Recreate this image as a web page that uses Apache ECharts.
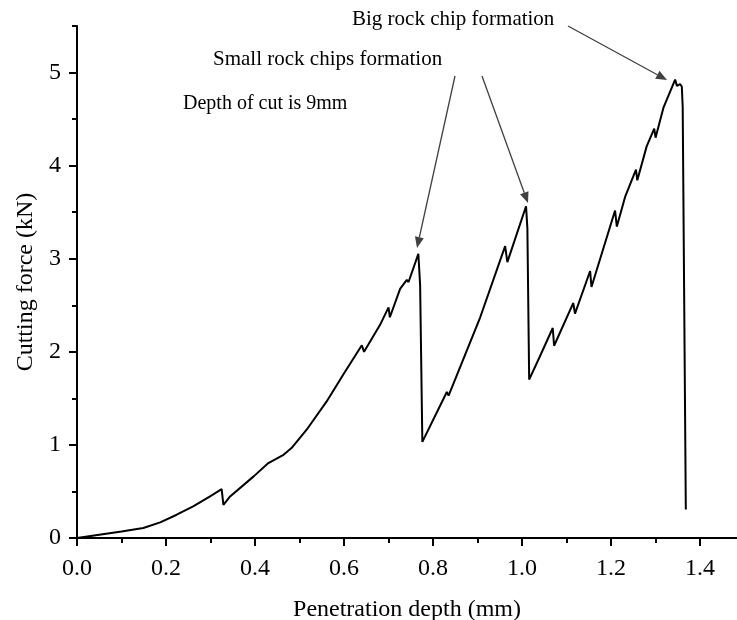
<!DOCTYPE html>
<html><head><meta charset="utf-8">
<script src="https://cdn.jsdelivr.net/npm/echarts@6/dist/echarts.min.js"></script>
<style>html,body{margin:0;padding:0;background:#fff}#c{width:737px;height:620px}</style>
</head><body><div id="c"></div>
<script>
const depth = [0, 0.05, 0.10, 0.149, 0.187, 0.224, 0.261, 0.299, 0.325, 0.329, 0.344, 0.397, 0.430, 0.464, 0.482, 0.516, 0.561, 0.598, 0.640, 0.645, 0.681, 0.700, 0.703, 0.726, 0.741, 0.745, 0.767, 0.771, 0.776, 0.831, 0.835, 0.906, 0.962, 0.967, 1.009, 1.012, 1.016, 1.040, 1.069, 1.072, 1.115, 1.119, 1.153, 1.156, 1.209, 1.213, 1.232, 1.256, 1.259, 1.280, 1.284, 1.297, 1.300, 1.318, 1.344, 1.348, 1.355, 1.359, 1.361, 1.368];
const force = [0, 0.035, 0.07, 0.107, 0.168, 0.25, 0.34, 0.447, 0.526, 0.357, 0.447, 0.662, 0.805, 0.894, 0.966, 1.163, 1.467, 1.753, 2.07, 2.00, 2.29, 2.478, 2.371, 2.677, 2.773, 2.75, 3.052, 2.715, 1.032, 1.568, 1.53, 2.371, 3.136, 2.964, 3.564, 3.327, 1.702, 1.95, 2.256, 2.065, 2.524, 2.41, 2.868, 2.696, 3.518, 3.346, 3.671, 3.958, 3.843, 4.207, 4.2, 4.398, 4.30, 4.627, 4.925, 4.857, 4.876, 4.85, 4.627, 0.306];
const xMajorTicks = [0, 0.2, 0.4, 0.6, 0.8, 1.0, 1.2, 1.4];
const xMinorTicks = [0.1, 0.3, 0.5, 0.7, 0.9, 1.1, 1.3];
const yMajorTicks = [0, 1, 2, 3, 4, 5];
const yMinorTicks = [0.5, 1.5, 2.5, 3.5, 4.5, 5.5];
const annotations = [
  {text: 'Big rock chip formation', x: 352, y: 20, size: 21},
  {text: 'Small rock chips formation', x: 213, y: 60, size: 21},
  {text: 'Depth of cut is 9mm', x: 183, y: 105, size: 20}
];
const arrows = [
  [[568, 26], [667, 80]],
  [[455, 76], [417, 248]],
  [[482, 76], [528, 203]]
];

const FONT = 'Liberation Serif';
const X_MAX = 1.483, Y_MAX = 5.5;
const axisLine = {show: true, onZero: false, lineStyle: {color: '#000', width: 2}};
const chart = echarts.init(document.getElementById('c'));

const graphic = [];
annotations.forEach(a => graphic.push({type: 'text', left: a.x, top: a.y - a.size / 2 - 1, style: {text: a.text, fontFamily: FONT, fontSize: a.size, fill: '#000'}}));
arrows.forEach(([p, q]) => {
  const dx = q[0] - p[0], dy = q[1] - p[1], L = Math.hypot(dx, dy);
  const ux = dx / L, uy = dy / L, hl = 11, hw = 4.5;
  const bx = q[0] - ux * hl, by = q[1] - uy * hl;
  graphic.push({type: 'line', shape: {x1: p[0], y1: p[1], x2: bx, y2: by}, style: {stroke: '#404040', lineWidth: 1.3}});
  graphic.push({type: 'polygon', shape: {points: [[q[0], q[1]], [bx - uy * hw, by + ux * hw], [bx + uy * hw, by - ux * hw]]}, style: {fill: '#404040'}});
});

chart.setOption({
  animation: false,
  backgroundColor: '#fff',
  grid: {left: 77, right: 0, top: 26, bottom: 82, containLabel: false, outerBoundsMode: 'none'},
  xAxis: [{
    type: 'value', min: 0, max: X_MAX, interval: 0.2,
    name: 'Penetration depth (mm)', nameLocation: 'middle', nameGap: 60,
    nameTextStyle: {fontFamily: FONT, fontSize: 24, color: '#000'},
    axisLine: axisLine,
    axisTick: {show: true, length: 8, lineStyle: {color: '#000', width: 2}, customValues: xMajorTicks},
    axisLabel: {fontFamily: FONT, fontSize: 24, color: '#000', margin: 19, customValues: xMajorTicks, formatter: v => v.toFixed(1)},
    splitLine: {show: false}
  }, {
    type: 'value', min: 0, max: X_MAX, position: 'bottom',
    axisLine: {show: false},
    axisTick: {show: true, length: 5, lineStyle: {color: '#000', width: 2}, customValues: xMinorTicks},
    axisLabel: {show: false}, splitLine: {show: false}
  }],
  yAxis: [{
    type: 'value', min: 0, max: Y_MAX, interval: 1,
    name: 'Cutting force (kN)', nameLocation: 'middle', nameGap: 38,
    nameTextStyle: {fontFamily: FONT, fontSize: 24, color: '#000'},
    axisLine: axisLine,
    axisTick: {show: true, length: 8, lineStyle: {color: '#000', width: 2}, customValues: yMajorTicks},
    axisLabel: {fontFamily: FONT, fontSize: 24, color: '#000', margin: 16, customValues: yMajorTicks},
    splitLine: {show: false}
  }, {
    type: 'value', min: 0, max: Y_MAX, position: 'left',
    axisLine: {show: false},
    axisTick: {show: true, length: 5, lineStyle: {color: '#000', width: 2}, customValues: yMinorTicks},
    axisLabel: {show: false}, splitLine: {show: false}
  }],
  series: [{
    type: 'line', xAxisIndex: 0, yAxisIndex: 0,
    data: depth.map((d, i) => [d, force[i]]),
    showSymbol: false, symbol: 'none',
    lineStyle: {color: '#000', width: 2}
  }],
  graphic: graphic
});
</script></body></html>
